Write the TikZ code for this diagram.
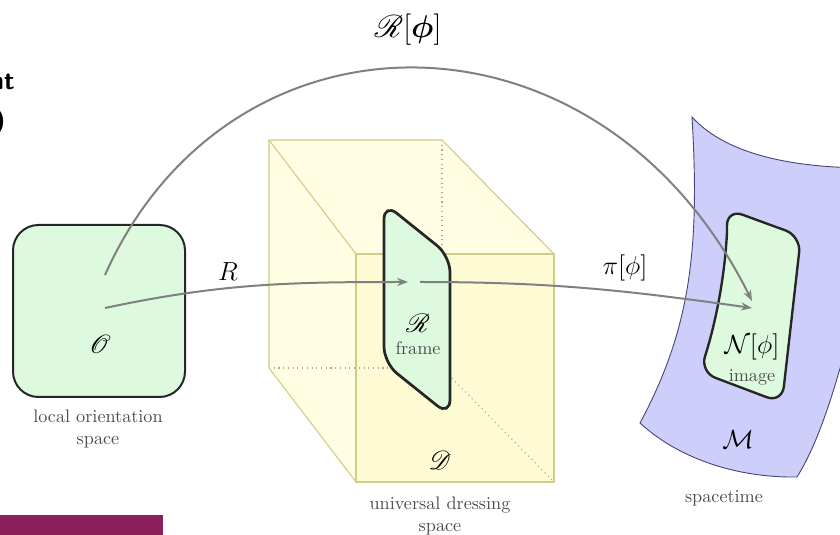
\documentclass[tikz,border=0pt]{standalone}
\usepackage{amsmath,amssymb}
\usepackage{mathrsfs}
\usetikzlibrary{arrows.meta,positioning}

\definecolor{regiongreen}{RGB}{222,250,222}
\definecolor{cubefill}{RGB}{255,253,226}
\definecolor{cubefront}{RGB}{254,250,212}
\definecolor{cubeedge}{RGB}{205,205,140}
\definecolor{sheetfill}{RGB}{206,206,250}
\definecolor{sheetedge}{RGB}{70,70,120}
\definecolor{arrowgray}{RGB}{128,128,128}
\definecolor{slidebar}{RGB}{140,32,92}

\begin{document}
\begin{tikzpicture}[
		x=0.55pt, y=-0.55pt,
		region/.style={draw=black!85, line width=1.3pt, fill=regiongreen},
		mapping/.style={draw=arrowgray, line width=1.1pt, -{Stealth[length=6pt,width=4.5pt]}},
		maplabel/.style={font=\Large},
		caption/.style={font=\normalsize, text=black!70, align=center, inner sep=1pt},
		cubeline/.style={draw=cubeedge, line width=0.6pt},
		hidden/.style={draw=black!35, dotted, line width=0.6pt}
		]
		\useasboundingbox (0,0) rectangle (840,535);

		% Slide leftovers
		\node[font=\sffamily\bfseries\Large, anchor=base east, inner sep=0pt] (cutword) at (15,90) {nt};
		\node[font=\sffamily\bfseries\Large, anchor=base east, inner sep=0pt] (cutparen) at (6,129) {)};
		\fill[slidebar] (0,515) rectangle (163,540);

		% Spacetime sheet
		\draw[fill=sheetfill, draw=sheetedge, line width=0.5pt]
			(692,117) .. controls (722,150) and (780,168) .. (870,168)
			-- (870,250) .. controls (840,380) and (820,440) .. (797,477)
			.. controls (740,478) and (680,460) .. (640,423)
			.. controls (690,330) and (700,250) .. cycle;

		% Image region
		\draw[region, rounded corners=9pt]
			(765,223) -- (801,236) -- (782,403) -- (700,372)
			[sharp corners] .. controls (716,322) and (725,275) .. (727,232)
			[rounded corners=9pt] -- (727,209) -- cycle;

		% Universal dressing space (cube)
		\fill[cubefill] (269,140) -- (442,140) -- (554,254) -- (554,482) -- (356,482) -- (269,368) -- cycle;
		\fill[cubefront] (356,254) rectangle (554,482);
		\draw[hidden] (442,140) -- (442,368);
		\draw[hidden] (269,368) -- (442,368);
		\draw[hidden] (442,368) -- (554,482);
		\draw[cubeline] (269,368) -- (269,140) -- (442,140) -- (554,254);
		\draw[cubeline] (269,140) -- (356,254);
		\draw[cubeline] (269,368) -- (356,482);
		\draw[cubeline] (356,254) rectangle (554,482);

		% Frame region
		\draw[region, line width=1.5pt, rounded corners=9pt]
			(384,203) -- (450,256) -- (450,416) -- (384,363) -- cycle;

		% Local orientation space
		\draw[region, line width=1.1pt, rounded corners=14pt] (13,225) rectangle (185,397);

		% Anchor points of the maps
		\coordinate (orient-up) at (105,275);
		\coordinate (orient-out) at (105,308);
		\coordinate (frame-in) at (408,282);
		\coordinate (frame-out) at (420,282);
		\coordinate (image-top) at (752,301);
		\coordinate (image-in) at (752,308);

		% Maps
		\draw[mapping] (orient-up) .. controls (230,-5) and (600,-5) .. (image-top);
		\draw[mapping] (orient-out) to[out=12, in=180] (frame-in);
		\draw[mapping] (frame-out) to[out=0, in=172] (image-in);

		% Map labels
		\node[maplabel, font=\LARGE] (reslabel) at (408,30) {$\mathscr{R}[\boldsymbol{\phi}]$};
		\node[maplabel] (rlabel) at (228,272) {$R$};
		\node[maplabel] (pilabel) at (625,268) {$\pi[\phi]$};

		% Region labels
		\node[font=\Large] (orient) at (100,344) {$\mathscr{O}$};
		\node[caption] (orientcap) at (98,429) {local orientation\\space};
		\node[font=\Large] (frame) at (418,323) {$\mathscr{R}$};
		\node[caption, below=0.5pt of frame] (framecap) {frame};
		\node[font=\Large] (dress) at (440,460) {$\mathscr{D}$};
		\node[caption] (dresscap) at (440,516) {universal dressing\\space};
		\node[font=\Large] (image) at (752,347) {$\mathcal{N}[\phi]$};
		\node[caption, below=0.5pt of image] (imagecap) {image};
		\node[font=\Large] (spacetime) at (738,440) {$\mathcal{M}$};
		\node[caption] (spacecap) at (724,498) {spacetime};

	\end{tikzpicture}
\end{document}
